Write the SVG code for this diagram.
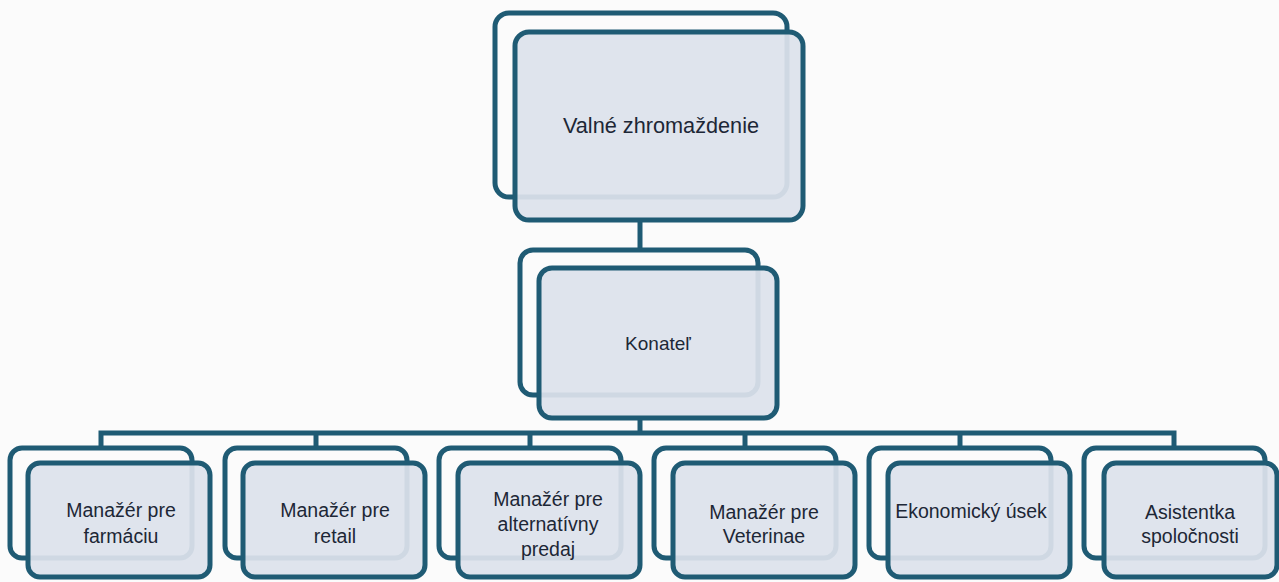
<svg xmlns="http://www.w3.org/2000/svg" width="1279" height="582" viewBox="0 0 1279 582">
<style>
.back{fill:none;stroke:#1f5b74;stroke-width:5}
.front{fill:#dde2ec;fill-opacity:0.93;stroke:#1f5b74;stroke-width:5}
.conn{fill:none;stroke:#1f5b74;stroke-width:5}
.t{font-family:"Liberation Sans",Arial,sans-serif;fill:#1d2736;text-anchor:middle}
.big{font-size:21.7px}
.mid{font-size:19px}
.sm{font-size:19.5px}
</style>
<rect width="1279" height="582" fill="#fbfbfb"/>
<g id="connectors">
<line class="conn" x1="640" y1="220" x2="640" y2="252"/>
<line class="conn" x1="640" y1="418" x2="640" y2="433"/>
<polyline class="conn" points="101,449 101,433 1174,433 1174,449"/>
<line class="conn" x1="316" y1="433" x2="316" y2="449"/>
<line class="conn" x1="530" y1="433" x2="530" y2="449"/>
<line class="conn" x1="745" y1="433" x2="745" y2="449"/>
<line class="conn" x1="960" y1="433" x2="960" y2="449"/>
</g>
<g id="n-valne">
<rect class="back" x="495" y="13" width="292" height="184" rx="14"/>
<rect class="front" x="515" y="32" width="288" height="188" rx="14"/>
<text class="t big" x="661" y="133">Valné zhromaždenie</text>
</g>
<g id="n-konatel">
<rect class="back" x="520" y="250" width="238" height="145" rx="13"/>
<rect class="front" x="539" y="268" width="238" height="150" rx="13"/>
<text class="t mid" x="658" y="350">Konateľ</text>
</g>
<g id="n-farmacia">
<rect class="back" x="10" y="448" width="182" height="110" rx="12"/>
<rect class="front" x="28" y="463" width="182" height="114" rx="12"/>
<text class="t sm" x="121" y="517">Manažér pre</text>
<text class="t sm" x="121" y="543">farmáciu</text>
</g>
<g id="n-retail">
<rect class="back" x="225" y="448" width="182" height="110" rx="12"/>
<rect class="front" x="243" y="463" width="182" height="114" rx="12"/>
<text class="t sm" x="335" y="517">Manažér pre</text>
<text class="t sm" x="335" y="543">retail</text>
</g>
<g id="n-alternativny">
<rect class="back" x="439" y="448" width="182" height="110" rx="12"/>
<rect class="front" x="458" y="463" width="182" height="114" rx="12"/>
<text class="t sm" x="548" y="506">Manažér pre</text>
<text class="t sm" x="548" y="531">alternatívny</text>
<text class="t sm" x="548" y="556">predaj</text>
</g>
<g id="n-veterinae">
<rect class="back" x="654" y="448" width="182" height="110" rx="12"/>
<rect class="front" x="673" y="463" width="182" height="114" rx="12"/>
<text class="t sm" x="764" y="519">Manažér pre</text>
<text class="t sm" x="764" y="543">Veterinae</text>
</g>
<g id="n-ekonomicky">
<rect class="back" x="869" y="448" width="182" height="110" rx="12"/>
<rect class="front" x="888" y="463" width="182" height="114" rx="12"/>
<text class="t sm" x="971" y="518">Ekonomický úsek</text>
</g>
<g id="n-asistentka">
<rect class="back" x="1084" y="448" width="181" height="110" rx="12"/>
<rect class="front" x="1104" y="463" width="173" height="114" rx="12"/>
<text class="t sm" x="1190" y="519">Asistentka</text>
<text class="t sm" x="1190" y="543">spoločnosti</text>
</g>
</svg>
